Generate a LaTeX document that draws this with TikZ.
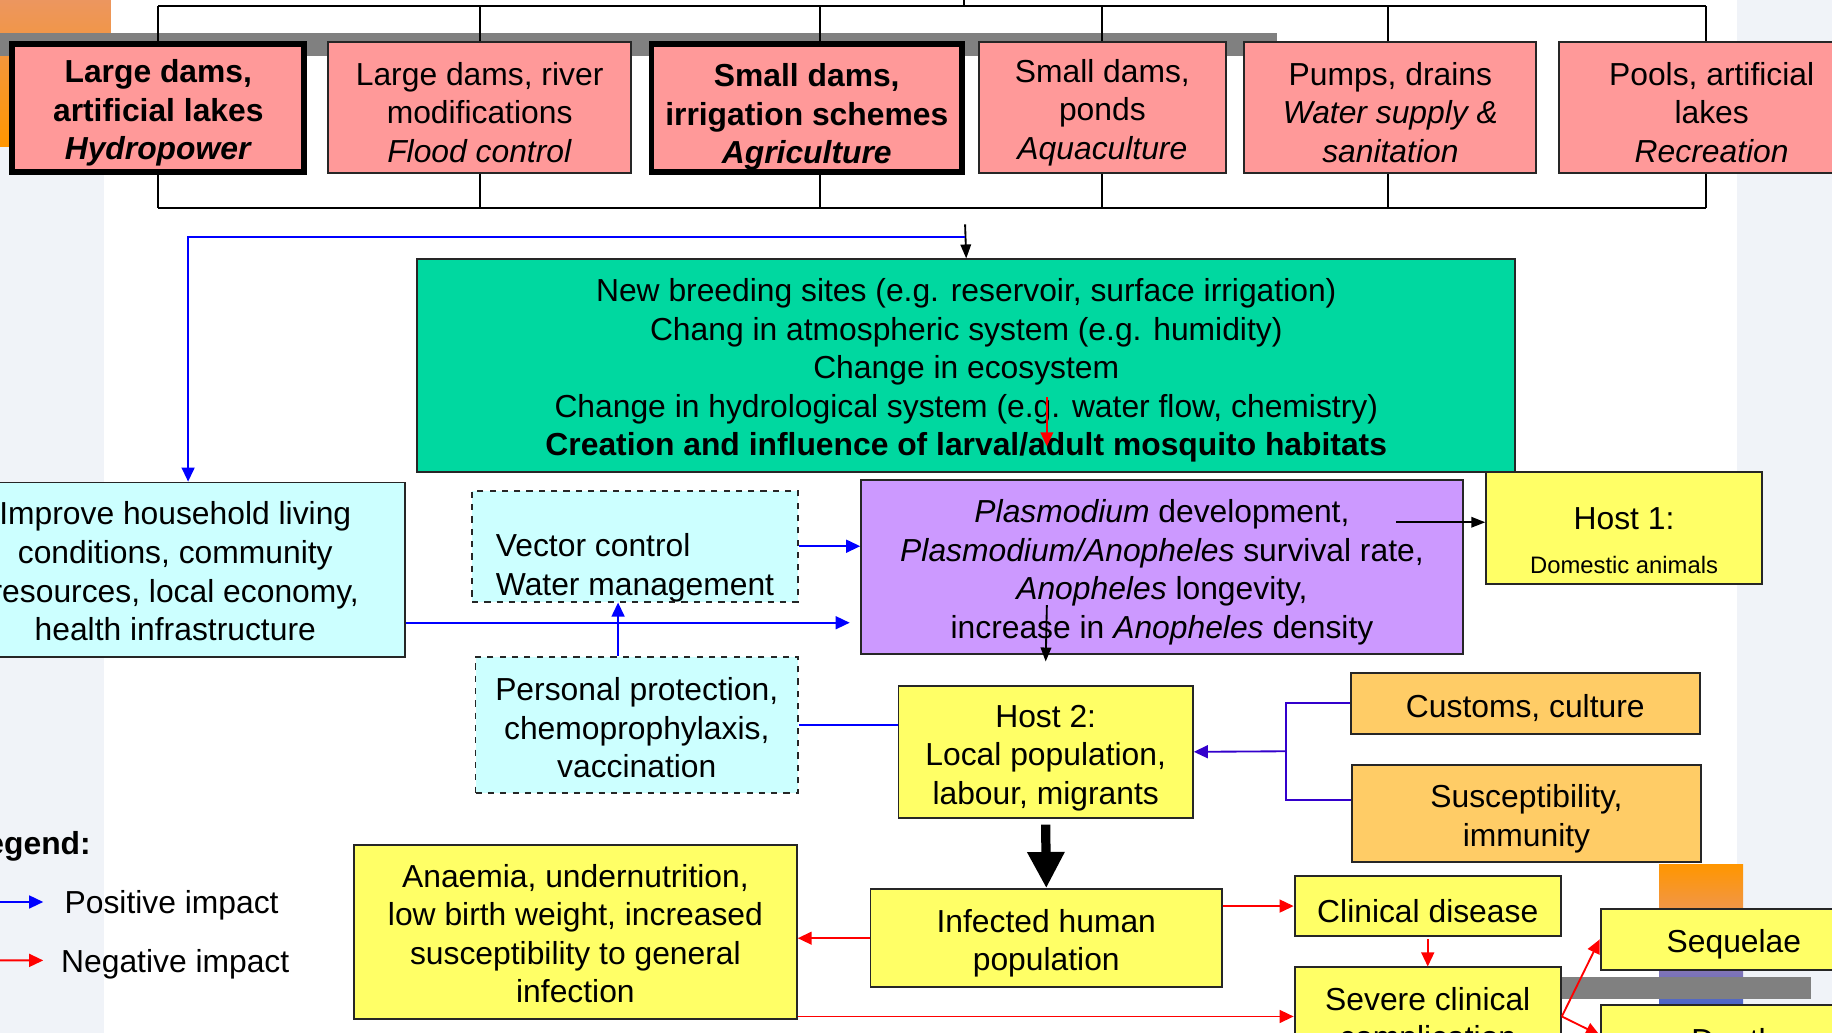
\documentclass[tikz,border=0pt]{standalone}
\usepackage{fontspec}
\setmainfont{Liberation Sans}
\usetikzlibrary{arrows.meta}

\definecolor{pinkfill}{RGB}{255,153,153}
\definecolor{greenfill}{RGB}{0,216,160}
\definecolor{cyanfill}{RGB}{204,255,255}
\definecolor{purplefill}{RGB}{204,153,255}
\definecolor{yellowfill}{RGB}{255,255,102}
\definecolor{orangefill}{RGB}{255,204,102}
\definecolor{posblue}{RGB}{0,0,255}
\definecolor{modblue}{RGB}{51,0,204}
\definecolor{negred}{RGB}{255,0,0}
\definecolor{bandgray}{RGB}{128,128,128}
\definecolor{stripgray}{RGB}{240,243,248}

% taller first line, pushes a stacked text a bit down in its box
\newcommand{\lift}[1][16pt]{\rule{0pt}{#1}}

\begin{document}
\begin{tikzpicture}[x=0.02cm, y=-0.02cm]
			\tikzstyle{box}      = [draw=black!85, line width=0.9pt, align=center, inner sep=0pt, font=\fontsize{15.5}{18.8}\selectfont, execute at begin node={\lift}]
			\tikzstyle{cause}    = [box, fill=pinkfill, minimum height=2.24cm]
			\tikzstyle{major}    = [cause, draw=black, line width=2.8pt, minimum height=2.2cm, font=\fontsize{15.5}{18.8}\selectfont\bfseries]
			\tikzstyle{action}   = [box, fill=cyanfill, dashed]
			\tikzstyle{host}     = [box, fill=yellowfill]
			\tikzstyle{factor}   = [box, fill=orangefill]
			\tikzstyle{bracket}  = [black, line width=0.9pt]
			\tikzstyle{blkarrow} = [black, line width=0.9pt, -{Triangle[length=0.24cm, width=0.18cm]}]
			\tikzstyle{posarrow} = [posblue, line width=0.9pt, -{Triangle[length=0.24cm, width=0.22cm]}]
			\tikzstyle{negarrow} = [negred, line width=0.9pt, -{Triangle[length=0.24cm, width=0.22cm]}]
			\tikzstyle{fatarrow} = [black, line width=4.5pt, -{Triangle[length=0.62cm, width=0.6cm]}]

			\useasboundingbox (0,0) rectangle (1568,884);
			\clip (0,0) rectangle (1568,884);
%			\draw[step=100, gray!30] (0,0) grid (1568,884);

			% slide background
			\fill[white] (0,0) rectangle (1568,884);
			\fill[stripgray] (0,125) rectangle (89,884);
			\fill[stripgray] (1487,0) rectangle (1568,884);
			\shade[top color={rgb,255:red,236;green,150;blue,95}, bottom color={rgb,255:red,255;green,150;blue,0}] (0,0) rectangle (95,125);
			\fill[bandgray] (0,28) rectangle (1093,48);
			\shade[top color={rgb,255:red,255;green,150;blue,0}, bottom color={rgb,255:red,236;green,150;blue,95}] (1420,740) rectangle (1492,790);
			\shade[top color={rgb,255:red,140;green,120;blue,180}, bottom color={rgb,255:red,70;green,100;blue,200}] (1420,825) rectangle (1492,862);
			\fill[bandgray] (1335,836) rectangle (1550,855);

			% water projects
			\node[major, minimum width=5.0cm] (A) at (135.5,92.5) {\lift Large dams,\\artificial lakes\\\textit{Hydropower}};
			\node[major, minimum width=5.32cm] (C) at (690.5,92.5) {\lift[20pt]Small dams,\\irrigation schemes\\\textit{Agriculture}};
			\foreach \name/\x/\w/\txt in {
				B/410.5/5.18/{Large dams, river\\modifications\\\textit{Flood control}},
				D/943.5/4.22/{Small dams,\\ponds\\\textit{Aquaculture}},
				E/1190/5.0/{Pumps, drains\\\textit{Water supply \&}\\\textit{sanitation}},
				F/1465/5.24/{Pools, artificial\\lakes\\\textit{Recreation}}}
				\node[cause, minimum width=\w cm] (\name) at (\x,92) {\lift\txt};

			\coordinate (top) at (0,5);
			\coordinate (bot) at (0,178);
			\coordinate (stub) at (825,5);
			\draw[bracket] (A.north |- top) -- ([xshift=-0.1cm]F.north |- top);
			\draw[bracket] (A.south |- bot) -- ([xshift=-0.1cm]F.south |- bot);
			\draw[bracket] (stub) -- ++(0,-10);
			\foreach \name/\dx in {A/0, B/0, C/0.23, D/0, E/-0.04, F/-0.1} {
				\draw[bracket] ([xshift=\dx cm]\name.north) -- ([xshift=\dx cm]\name.north |- top);
				\draw[bracket] ([xshift=\dx cm]\name.south) -- ([xshift=\dx cm]\name.south |- bot);
			}

			% environment
			\node[box, fill=greenfill, minimum width=18.8cm, minimum height=3.64cm] (habitat) at (827,313) {\lift New breeding sites (e.g. reservoir, surface irrigation)\\Chang in atmospheric system (e.g. humidity)\\Change in ecosystem\\Change in hydrological system (e.g. water flow, chemistry)\\\textbf{Creation and influence of larval/adult mosquito habitats}};

			\node[box, fill=cyanfill, minimum width=7.88cm, minimum height=2.98cm] (improve) at (150,487.5) {\lift[13pt]Improve household living\\conditions, community\\resources, local economy,\\health infrastructure};
			\node[action, align=left, minimum width=5.58cm, minimum height=1.78cm] (vector) at (543.5,467.5) {\strut\\Vector control\\Water management};
			\node[action, minimum width=5.52cm, minimum height=2.34cm] (personal) at (545,620.5) {\lift[14pt]Personal protection,\\chemoprophylaxis,\\vaccination};
			\node[box, fill=purplefill, minimum width=10.3cm, minimum height=2.98cm] (parasite) at (994.5,485.5) {\lift\textit{Plasmodium} development,\\\textit{Plasmodium/Anopheles} survival rate,\\\textit{Anopheles} longevity,\\increase in \textit{Anopheles} density};

			% hosts
			\node[host, minimum width=4.72cm, minimum height=1.92cm] (host1) at (1390,452) {\lift[22.5pt]Host 1:\\[2.6pt]{\fontsize{11.6}{14}\selectfont Domestic animals}};
			\node[host, minimum width=5.04cm, minimum height=2.26cm] (host2) at (895,643.5) {\lift[17pt]Host 2:\\Local population,\\labour, migrants};
			\node[factor, minimum width=5.98cm, minimum height=1.04cm] (customs) at (1305.5,602) {Customs, culture};
			\node[factor, minimum width=5.98cm, minimum height=1.66cm] (suscept) at (1306.5,696.5) {\lift Susceptibility,\\immunity};

			% health outcomes
			\node[host, minimum width=6.02cm, minimum height=1.68cm] (infected) at (895.5,803) {\lift Infected human\\population};
			\node[host, minimum width=7.58cm, minimum height=2.98cm] (anaemia) at (492.5,797.5) {\lift[13pt]Anaemia, undernutrition,\\low birth weight, increased\\susceptibility to general\\infection};
			\node[host, minimum width=4.56cm, minimum height=1.02cm] (clinical) at (1222,775.5) {Clinical disease};
			\node[host, minimum width=4.56cm, minimum height=1.68cm] (severe) at (1222,870) {\lift Severe clinical\\complication};
			\node[host, minimum width=4.56cm, minimum height=1.04cm] (sequelae) at (1484,804) {Sequelae};
			\node[host, minimum width=4.56cm, minimum height=1.04cm] (death) at (1484,886) {Death};

			% legend
			\node[anchor=east, inner sep=0pt, font=\fontsize{15.5}{18.8}\selectfont\bfseries] (legend) at (78,724) {Legend:};
			\node[anchor=west, inner sep=0pt, font=\fontsize{15.5}{18.8}\selectfont] (lpos) at (55,775) {Positive impact};
			\node[anchor=west, inner sep=0pt, font=\fontsize{15.5}{18.8}\selectfont] (lneg) at (52,825) {Negative impact};
			\coordinate (lp) at (-5,772);
			\coordinate (ln) at (-5,822);
			\draw[posarrow] (lp) -- ([xshift=-0.36cm, yshift=0.06cm]lpos.west);
			\draw[negarrow] (ln) -- ([xshift=-0.3cm, yshift=0.06cm]lneg.west);

			% connectors
			\coordinate (feed) at (826,192);
			\coordinate (bluerow) at (161,203);
			\coordinate (lowrow) at (0,533);
			\coordinate (h1from) at (1195,447);
			\coordinate (h2from) at (896,518);
			\coordinate (split) at (1101,643);
			\coordinate (redtop) at (896,340);
			\draw[blkarrow] (feed) -- (habitat.north);
			\draw[posarrow] (feed |- bluerow) -- (bluerow) -- (bluerow |- improve.north);
			\draw[negarrow, line width=0.7pt] (redtop) -- ++(0,42);
			\draw[posarrow] (vector.east) -- (vector.east -| parasite.west);
			\draw[posarrow] (improve.east |- lowrow) -- ([xshift=-0.18cm]parasite.west |- lowrow);
			\draw[posarrow] ([xshift=-0.32cm]personal.north) -- ([xshift=-0.32cm]personal.north |- vector.south);
			\draw[posblue, line width=0.9pt] (personal.east) -- (personal.east -| host2.west);
			\draw[blkarrow] (h1from) -- (h1from -| host1.west);
			\draw[blkarrow] (h2from) -- ([yshift=0.4cm]host2.north);
			\draw[modblue, line width=0.9pt] (customs.west) -| (split) |- ([yshift=0.23cm]suscept.west);
			\draw[modblue, line width=0.9pt, -{Triangle[length=0.24cm, width=0.22cm]}] (split) -- (host2.east);
			\draw[fatarrow] ([yshift=-0.1cm]host2.south) -- (infected.north);
			\draw[negarrow] (infected.west) -- (infected.west -| anaemia.east);
			\draw[negarrow] (clinical.west -| infected.east) -- (clinical.west);
			\draw[negarrow] ([yshift=-0.04cm]clinical.south) -- (severe.north);
			\draw[negarrow] (severe.west -| anaemia.east) -- (severe.west);
			\draw[negarrow] (severe.east) -- (sequelae.west);
			\draw[negarrow] (severe.east) -- (death.west);

		\end{tikzpicture}
\end{document}
